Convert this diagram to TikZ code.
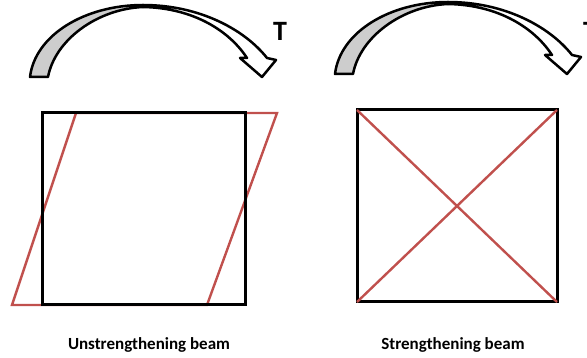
\documentclass[tikz,border=0pt]{standalone}
\usepackage{fontspec}
\setmainfont{Carlito}
\definecolor{beamred}{RGB}{192,80,77}
\definecolor{twistgray}{RGB}{205,205,205}

\begin{document}
\begin{tikzpicture}[
  x=1pt, y=-1pt,
  frame/.style={draw=black, line width=3pt},
  redline/.style={draw=beamred, line width=2.4pt},
  twistback/.style={fill=twistgray, draw=black, line width=2.5pt, line join=round},
  twistfront/.style={fill=white, draw=black, line width=2.5pt, line join=round},
  caption/.style={font=\fontsize{17}{19}\selectfont\bfseries},
  torque/.style={font=\fontsize{28}{30}\selectfont\bfseries, inner sep=0pt, anchor=base},
]
\useasboundingbox (0,0) rectangle (587,358);
\clip (0,0) rectangle (587,358);

% ---- twisting arrows ----
\foreach \dx/\dy in {0/0, 305/-3} {
  \begin{scope}[shift={(\dx,\dy)}]
    \filldraw[twistback] (30,77) .. controls (35,35) and (85,5) .. (143,5)
      -- (143,7) .. controls (97,9) and (55,40) .. (48,77) -- cycle;
    \filldraw[twistfront] (143,5) .. controls (200,5) and (245,30) .. (267,58)
      -- (276,60) -- (262,77) -- (240,58) -- (247,58)
      .. controls (230,32) and (195,8) .. (143,7) -- cycle;
  \end{scope}
}
\node[torque] (tl) at (280,41) {T};
\node[torque] (tr) at (590,41) {T};

% ---- unstrengthened beam ----
\coordinate (a1) at (42,305);
\coordinate (a2) at (245,305);
\coordinate (a3) at (245,113);
\coordinate (a4) at (42,113);
\coordinate (s1) at (12,305);
\coordinate (s2) at (207,305);
\coordinate (s3) at (277,113);
\coordinate (s4) at (76,113);
\draw[redline] (s1) -- (s4) -- (s3) -- (s2) -- cycle;
\draw[frame] (a1) -- (a2) -- (a3) -- (a4) -- cycle;
\node[caption] (capl) at (149,345) {Unstrengthening beam};

% ---- strengthened beam ----
\coordinate (b1) at (357,302);
\coordinate (b2) at (557,302);
\coordinate (b3) at (557,110);
\coordinate (b4) at (357,110);
\draw[frame] (b1) -- (b2) -- (b3) -- (b4) -- cycle;
\draw[redline] (b1) -- (b3);
\draw[redline] (b2) -- (b4);
\node[caption] (capr) at (453,345) {Strengthening beam};

\end{tikzpicture}
\end{document}
